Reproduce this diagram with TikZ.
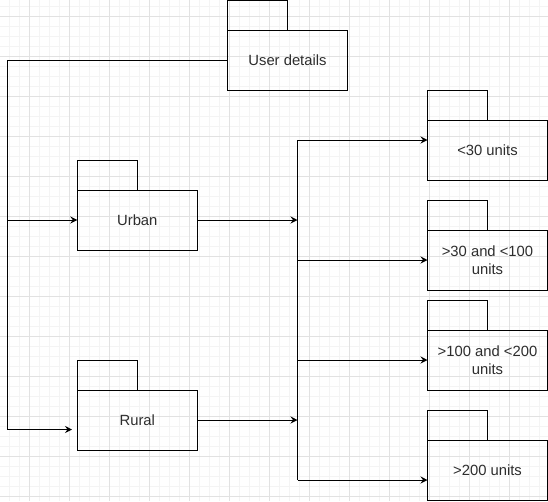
\documentclass[tikz,border=0pt]{standalone}
\usepackage{fontspec}
\setmainfont{Liberation Sans}
\usepackage{xcolor}
\usepackage{tikz}
\usetikzlibrary{arrows.meta}

\definecolor{gridminor}{RGB}{244,244,244}
\definecolor{gridmajor}{RGB}{226,226,226}
\definecolor{labelgray}{RGB}{45,45,45}

\tikzset{
	pkg/.style={draw,line width=1pt,minimum width=120pt,minimum height=60pt,
		inner sep=2pt,outer sep=0pt,align=center,text=labelgray,
		font=\fontsize{14.8}{18}\selectfont},
	pkgtab/.style={draw,line width=1pt,minimum width=60pt,minimum height=30pt,
		inner sep=0pt,outer sep=0pt,anchor=south west},
	flow/.style={line width=1pt,-{Stealth[length=7pt,width=7pt,inset=2.5pt]}},
	wire/.style={line width=1pt}
}

\begin{document}
\begin{tikzpicture}[x=1pt,y=-1pt]
		\useasboundingbox (0,0) rectangle (548,501);
		% grid
		\fill[white] (0,0) rectangle (548,501);
		\foreach \gx in {9.3,19.3,...,548} \draw[gridminor,line width=0.8pt] (\gx,0) -- (\gx,501);
		\foreach \gy in {6.5,16.5,...,501} \draw[gridminor,line width=0.8pt] (0,\gy) -- (548,\gy);
		\foreach \gx in {29.3,69.3,...,548} \draw[gridmajor,line width=0.8pt] (\gx,0) -- (\gx,501);
		\foreach \gy in {16.5,56.5,...,501} \draw[gridmajor,line width=0.8pt] (0,\gy) -- (548,\gy);
		%
		\node[pkg] (user) at (287.5,60) {User details};
		\node[pkg] (urban) at (137.3,220) {Urban};
		\node[pkg] (rural) at (137.3,420) {Rural};
		\node[pkg] (low) at (487.5,150) {<30 units};
		\node[pkg] (mid) at (487.5,260) {>30 and <100\\units};
		\node[pkg] (high) at (487.5,360) {>100 and <200\\units};
		\node[pkg] (top) at (487.5,470) {>200 units};
		%
		\foreach \p in {user,urban,rural,low,mid,high,top}
			\node[pkgtab] (\p-tab) at (\p.north west) {};
		%
		\coordinate (split) at (7.3,220);
		\coordinate (bend) at (7.3,429.5);
		\coordinate (rural-in) at (72,429.5);
		\coordinate (bus-up) at (297.5,140);
		\coordinate (bus-down) at (297.5,480);
		%
		\draw[wire] (user.west) -| (bend);
		\draw[flow] (bend) -- (rural-in);
		\draw[flow] (split) -- (urban.west);
		\draw[flow] (urban.east) -- (urban.east -| bus-up);
		\draw[flow] (rural.east) -- (rural.east -| bus-up);
		\draw[wire] (bus-up) -- (bus-down);
		\draw[flow] (bus-up) -- (bus-up -| low.west);
		\draw[flow] (mid.west -| bus-up) -- (mid.west);
		\draw[flow] (high.west -| bus-up) -- (high.west);
		\draw[flow] (bus-down) -- (bus-down -| top.west);
\end{tikzpicture}
\end{document}
